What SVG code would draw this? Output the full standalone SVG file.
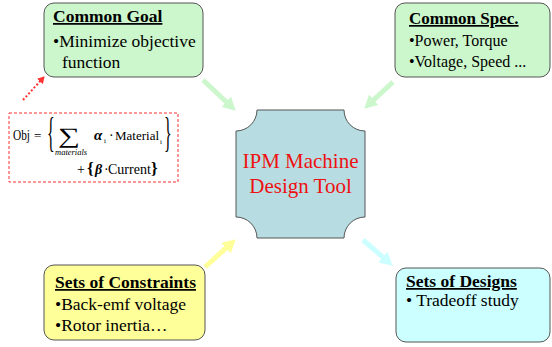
<svg xmlns="http://www.w3.org/2000/svg" width="552" height="347" viewBox="0 0 552 347">
<style>
.box{stroke:#555;stroke-width:1}
.title{font-weight:bold;text-decoration:underline}
.arr{stroke-width:5;fill:none}
.it{font-style:italic}
.bi{font-style:italic;font-weight:bold}
</style>
<defs>
<marker id="hg" markerUnits="userSpaceOnUse" markerWidth="14" markerHeight="14" refX="2" refY="7" orient="auto"><path d="M0,0 L13,7 L0,14 Z" fill="#ccf7cc"/></marker>
<marker id="hy" markerUnits="userSpaceOnUse" markerWidth="14" markerHeight="14" refX="2" refY="7" orient="auto"><path d="M0,0 L13,7 L0,14 Z" fill="#ffff99"/></marker>
<marker id="hc" markerUnits="userSpaceOnUse" markerWidth="14" markerHeight="14" refX="2" refY="7" orient="auto"><path d="M0,0 L13,7 L0,14 Z" fill="#ccffff"/></marker>
<marker id="hr" markerUnits="userSpaceOnUse" markerWidth="8" markerHeight="8" refX="1" refY="4" orient="auto"><path d="M0,0 L7,4 L0,8 Z" fill="#ff3333"/></marker>
</defs>
<rect width="552" height="347" fill="#fff"/>

<g id="connectors">
<line class="arr" x1="203" y1="80" x2="227.7" y2="103.2" stroke="#ccf7cc" marker-end="url(#hg)"/>
<line class="arr" x1="393" y1="82" x2="372.3" y2="101.2" stroke="#ccf7cc" marker-end="url(#hg)"/>
<line class="arr" x1="205" y1="267" x2="227.6" y2="246.7" stroke="#ffff99" marker-end="url(#hy)"/>
<line class="arr" x1="363" y1="240" x2="384.4" y2="258.5" stroke="#ccffff" marker-end="url(#hc)"/>
<line x1="23" y1="100" x2="40.6" y2="80.7" stroke="#ff3333" stroke-width="2" stroke-dasharray="2,2" marker-end="url(#hr)"/>
</g>

<g fill="#000" style="font-family:'Liberation Serif','Times New Roman',serif">
<g id="goal">
<rect class="box" x="44" y="3" width="159" height="74" rx="10" fill="#ccf7cc"/>
<text class="title" x="53" y="22" font-size="17.5">Common Goal</text>
<text x="53" y="47" font-size="17.5">•Minimize objective</text>
<text x="62" y="68" font-size="17.5">function</text>
</g>

<g id="spec">
<rect class="box" x="395" y="3" width="155" height="74" rx="10" fill="#ccf7cc"/>
<text class="title" x="409" y="24" font-size="17">Common Spec.</text>
<text x="409" y="46" font-size="16">•Power, Torque</text>
<text x="409" y="67" font-size="16">•Voltage, Speed ...</text>
</g>

<g id="tool">
<path class="box" d="M257,110 L344,110 A21,21 0 0 0 365,131 L365,217 A21,21 0 0 0 344,238 L257,238 A21,21 0 0 0 236,217 L236,131 A21,21 0 0 0 257,110 Z" fill="#b7dde2"/>
<text x="300.5" y="168" font-size="21" text-anchor="middle" fill="#ee1111">IPM Machine</text>
<text x="300.5" y="193" font-size="21" text-anchor="middle" fill="#ee1111">Design Tool</text>
</g>

<g id="constraints">
<rect class="box" x="44" y="265" width="161" height="75" rx="10" fill="#ffff99"/>
<text class="title" x="55" y="288" font-size="17.5">Sets of Constraints</text>
<text x="55" y="310" font-size="17.5">•Back-emf voltage</text>
<text x="55" y="331" font-size="17.5">•Rotor inertia…</text>
</g>

<g id="designs">
<rect class="box" x="396" y="268" width="154" height="74" rx="10" fill="#ccffff"/>
<text class="title" x="406" y="287" font-size="17.5">Sets of Designs</text>
<text x="406" y="306" font-size="17.5">• Tradeoff study</text>
</g>

<g id="formula">
<rect x="9" y="113" width="169" height="69" fill="none" stroke="#ff3333" stroke-width="1" stroke-dasharray="3,2"/>
<text x="13" y="140" font-size="14" textLength="17" lengthAdjust="spacingAndGlyphs">Obj</text>
<text x="34" y="140" font-size="13">=</text>
<text transform="translate(47,145.7) scale(1,2.6)" font-size="16">{</text>
<text transform="translate(58,143) scale(1.4,1)" font-size="22">∑</text>
<text class="it" x="55" y="155" font-size="8.5">materials</text>
<text class="bi" x="94" y="140" font-size="15">α</text>
<text x="104" y="143" font-size="7">i</text>
<text x="109" y="140" font-size="14">·</text>
<text x="115" y="140" font-size="13">Material</text>
<text x="160" y="144" font-size="7">i</text>
<text transform="translate(164,145.7) scale(1,2.6)" font-size="16">}</text>
<text x="77" y="174" font-size="14">+</text>
<text x="87" y="174" font-size="17" font-weight="bold">{</text>
<text class="bi" x="95" y="174" font-size="14">β</text>
<text x="104" y="174" font-size="14">·</text>
<text x="108" y="174" font-size="14">Current</text>
<text x="151" y="174" font-size="17" font-weight="bold">}</text>
</g>
</g>
</svg>
